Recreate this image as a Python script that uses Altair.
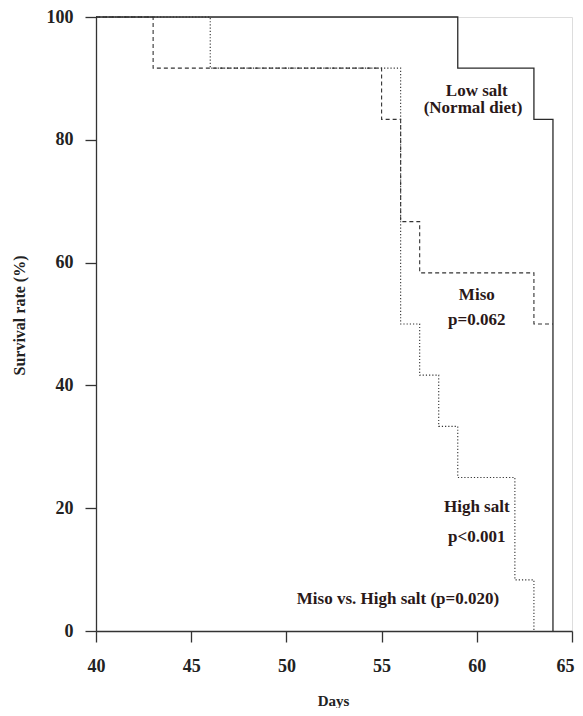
import altair as alt
import pandas as pd

# Kaplan-Meier step curves (day, survival %)
low_days = [40, 59, 63, 64]
low_surv = [100, 91.67, 83.33, 0]

miso_days = [40, 43, 55, 56, 57, 63, 64]
miso_surv = [100, 91.67, 83.33, 66.67, 58.33, 50, 50]

high_days = [40, 46, 56, 57, 58, 59, 62, 63]
high_surv = [100, 91.67, 50, 41.67, 33.33, 25, 8.33, 0]

x_ticks = [40, 45, 50, 55, 60, 65]
y_ticks = [0, 20, 40, 60, 80, 100]

# annotations
ann_text = ["Low salt", "(Normal diet)", "Miso", "p=0.062", "High salt", "p<0.001",
            "Miso vs. High salt (p=0.020)"]
ann_day = [60.0, 59.8, 60.0, 60.0, 60.0, 60.0, 55.86]
ann_rate = [87.15, 84.3, 53.9, 49.8, 19.4, 14.5, 4.4]

low_df = pd.DataFrame({"day": low_days, "rate": low_surv})
miso_df = pd.DataFrame({"day": miso_days, "rate": miso_surv})
high_df = pd.DataFrame({"day": high_days, "rate": high_surv})
ann_df = pd.DataFrame({"text": ann_text, "day": ann_day, "rate": ann_rate})

FONT = "Liberation Serif"
INK = "#222222"

x_enc = alt.X("day:Q",
              scale=alt.Scale(domain=[40, 65], nice=False, zero=False),
              axis=alt.Axis(values=x_ticks, title="Days", grid=False,
                            tickSize=11, labelPadding=15, labelFlush=False,
                            labelOffset=alt.ExprRef(expr="datum.value == 65 ? -7 : 0"),
                            labelOverlap=False, labelFont=FONT, labelFontSize=18,
                            labelFontWeight="bold", labelColor=INK,
                            titleFont=FONT, titleFontSize=15, titleFontWeight="bold",
                            titleColor=INK, titleX=237, titleY=74,
                            titleBaseline="alphabetic", titleAnchor="start",
                            titleAlign="center",
                            domainColor="#333333", domainWidth=1.3,
                            tickColor="#333333", tickWidth=1.3))
y_enc = alt.Y("rate:Q",
              scale=alt.Scale(domain=[0, 100], nice=False),
              axis=alt.Axis(values=y_ticks, title="Survival rate (%)", grid=False,
                            tickSize=11, labelPadding=12, labelFlush=False,
                            labelOverlap=False, labelFont=FONT, labelFontSize=18,
                            labelFontWeight="bold", labelColor=INK,
                            titleFont=FONT, titleFontSize=16, titleFontWeight="bold",
                            titleColor=INK, titleX=-72, titleY=298, titleAngle=270,
                            titleBaseline="alphabetic", titleAlign="center",
                            domainColor="#333333", domainWidth=1.3,
                            tickColor="#333333", tickWidth=1.3))

high = alt.Chart(high_df).mark_line(interpolate="step-after", color="#333333",
                                    strokeWidth=1.1, strokeDash=[1.2, 2]).encode(x=x_enc, y=y_enc)
miso = alt.Chart(miso_df).mark_line(interpolate="step-after", color="#333333",
                                    strokeWidth=1.1, strokeDash=[4, 3]).encode(x=x_enc, y=y_enc)
low = alt.Chart(low_df).mark_line(interpolate="step-after", color="#2a2a2a",
                                  strokeWidth=1.3).encode(x=x_enc, y=y_enc)

ann = alt.Chart(ann_df).mark_text(font=FONT, fontSize=17, fontWeight="bold",
                                  color="#2a1818", align="center",
                                  baseline="alphabetic").encode(
    x="day:Q", y="rate:Q", text="text:N")

chart = alt.layer(high, miso, low, ann).properties(
    width=476, height=614,
    autosize=alt.AutoSizeParams(type="none"),
    padding={"left": 88, "top": 9, "right": 3, "bottom": 77},
).configure_view(stroke=None).configure(background="white")

chart.save("out.html", embed_options={"renderer": "svg", "actions": False})
